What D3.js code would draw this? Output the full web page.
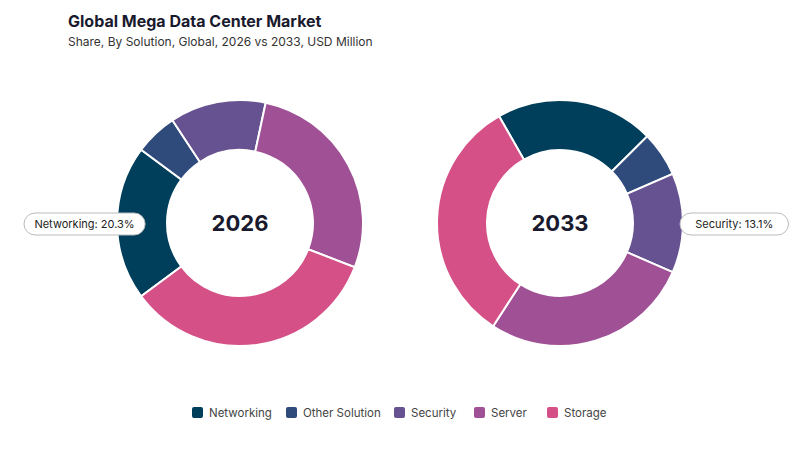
<!DOCTYPE html>
<html><head><meta charset="utf-8">
<script src="https://cdn.jsdelivr.net/npm/d3@7"></script>
<style>body{margin:0;background:#fff;font-family:Inter,"Open Sans",sans-serif}</style>
</head><body><svg id="c" width="800" height="450"></svg>
<script>
const categories=["Networking","Other Solution","Security","Server","Storage"];
const colors=["#003f5c","#2f4b7c","#665191","#a05195","#d45087"];
const values2026=[20.3,5.6,12.6,27.5,34.0];
const values2033=[20.8,5.9,13.1,27.6,32.6];
const years=["2026","2033"];
const labelIdx=[0,2];

const svg=d3.select("#c");
svg.append("text").attr("x",68).attr("y",27).attr("font-size",16).attr("font-weight",700).attr("fill","#1a1a2e").text("Global Mega Data Center Market");
svg.append("text").attr("x",68).attr("y",46).attr("font-size",12).attr("fill","#333").text("Share, By Solution, Global, 2026 vs 2033, USD Million");

const color=d3.scaleOrdinal().domain(categories).range(colors);
const arc=d3.arc().innerRadius(73).outerRadius(123);
[[values2026,240,true],[values2033,560,false]].forEach(([vals,cx,leftLabel],k)=>{
  const total=d3.sum(vals), li=labelIdx[k];
  const before=d3.sum(vals.slice(0,li)), mid=(before+vals[li]/2)/total*2*Math.PI;
  const target=leftLabel?1.5*Math.PI:0.5*Math.PI;
  const start=target-mid;
  const pie=d3.pie().sort(null).startAngle(start).endAngle(start+2*Math.PI);
  const g=svg.append("g").attr("transform",`translate(${cx},223)`);
  g.selectAll("path").data(pie(vals)).join("path").attr("d",arc)
    .attr("fill",(d,i)=>color(categories[i])).attr("stroke","#fff").attr("stroke-width",2);
  g.append("text").attr("text-anchor","middle").attr("dy","0.35em").attr("font-size",22).attr("font-weight",700).attr("fill","#1a1a2e").text(years[k]);
  const txt=categories[li]+": "+vals[li].toFixed(1)+"%";
  const w=txt.length*6.3+14;
  const x=leftLabel?-216:440-cx+560-440+120; // right pill starts ~ cx+120
  const px=leftLabel?cx-216:cx+120;
  const lg=svg.append("g").attr("transform",`translate(${px},224)`);
  lg.append("rect").attr("x",0).attr("y",-11).attr("width",w).attr("height",22).attr("rx",11)
    .attr("fill","#fff").attr("stroke","#bbb");
  lg.append("text").attr("x",w/2).attr("dy","0.35em").attr("text-anchor","middle").attr("font-size",11).attr("fill","#222").text(txt);
});

const legX=[192,286,394,474,547];
const lg=svg.append("g");
categories.forEach((c,i)=>{
  lg.append("rect").attr("x",legX[i]).attr("y",407).attr("width",11).attr("height",11).attr("rx",2).attr("fill",color(c));
  lg.append("text").attr("x",legX[i]+17).attr("y",417).attr("font-size",11.5).attr("fill","#444").text(c);
});
</script></body></html>
